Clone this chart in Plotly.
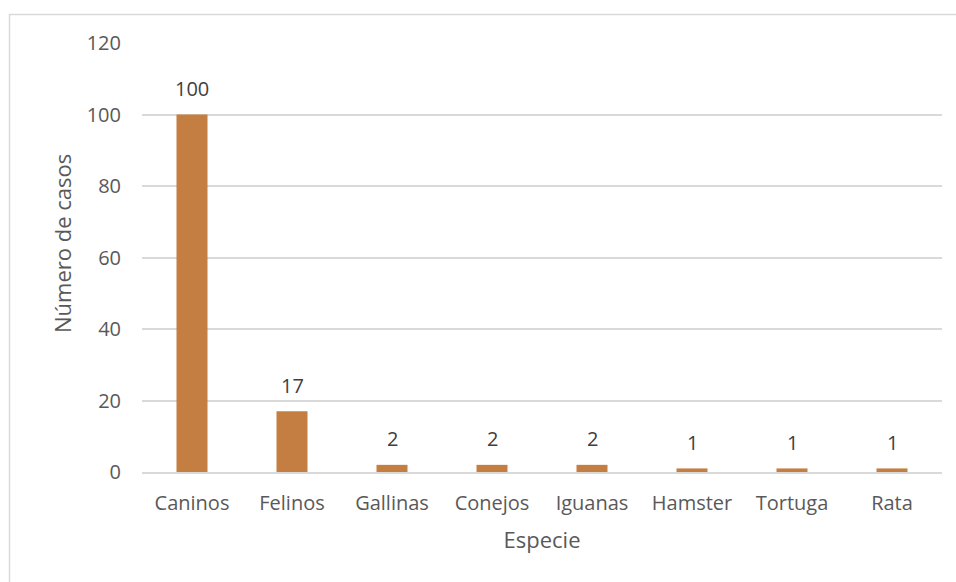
import plotly.graph_objects as go

categories = ["Caninos", "Felinos", "Gallinas", "Conejos", "Iguanas", "Hamster", "Tortuga", "Rata"]
values = [100, 17, 2, 2, 2, 1, 1, 1]
y_ticks = [0, 20, 40, 60, 80, 100, 120]

font = "Open Sans, sans-serif"

fig = go.Figure()
fig.add_trace(go.Bar(
    x=categories, y=values,
    marker=dict(color="#C57E41", line=dict(width=0)),
    width=0.31,
    hoverinfo="x+y",
))

annotations = [
    dict(x=c, y=v, xref="x", yref="y", text=str(v), showarrow=False,
         yanchor="middle", yshift=26, font=dict(family=font, size=20, color="#404040"))
    for c, v in zip(categories, values)
]
annotations.append(dict(
    text="Número de casos", xref="paper", yref="paper",
    x=(62 - 142) / 800, y=(472 - 244) / 429, xanchor="center", yanchor="middle",
    textangle=-90, showarrow=False, font=dict(family=font, size=22, color="#595959"),
))

fig.update_layout(
    width=956, height=582,
    margin=dict(l=142, r=14, t=43, b=110),
    paper_bgcolor="white", plot_bgcolor="white",
    showlegend=False,
    font=dict(family=font, size=20, color="#595959"),
    xaxis=dict(
        title=dict(text="Especie", font=dict(size=22, color="#595959"), standoff=18),
        showgrid=False, showline=True, linecolor="#D9D9D9", linewidth=1.5,
        ticks="", tickfont=dict(size=20, color="#595959"), ticklabelstandoff=12,
    ),
    yaxis=dict(
        range=[0, 120], tickvals=y_ticks, showgrid=True, gridcolor="#D9D9D9", gridwidth=1.5,
        zeroline=False, showline=False, ticks="", ticklabelstandoff=20,
        tickfont=dict(size=20, color="#595959"),
    ),
    annotations=annotations,
    shapes=[dict(type="rect", xref="paper", yref="paper",
                 x0=(9.5 - 142) / 800, x1=1.5, y0=-1.5, y1=(472 - 14.5) / 429,
                 line=dict(color="#D9D9D9", width=1.5), fillcolor="rgba(0,0,0,0)", layer="below")],
)

fig.write_html("out.html")
